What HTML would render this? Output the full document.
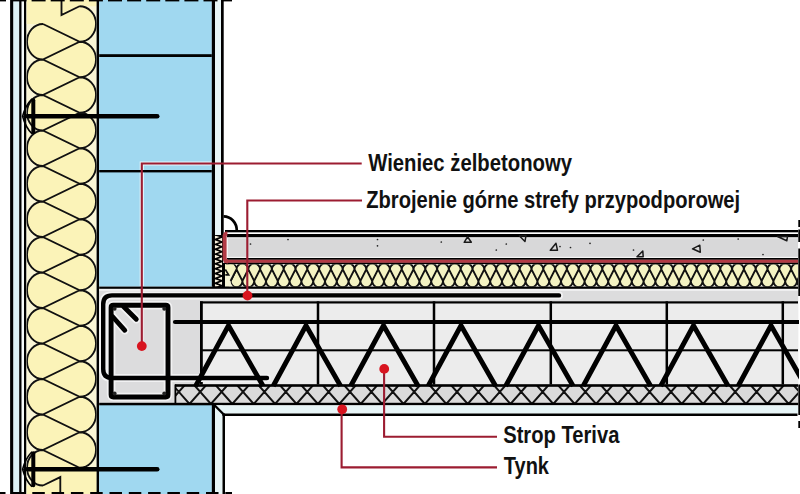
<!DOCTYPE html>
<html><head><meta charset="utf-8"><title>Wieniec</title>
<style>
html,body{margin:0;padding:0;background:#fff;}
body{width:800px;height:494px;overflow:hidden;}
svg{display:block;}
text{font-family:"Liberation Sans",sans-serif;font-weight:bold;fill:#111;}
</style></head><body>
<svg width="800" height="494" viewBox="0 0 800 494">
<defs>
<clipPath id="cvi"><rect x="26.5" y="0" width="70.1" height="494"/></clipPath>
<clipPath id="chi"><rect x="225" y="264.3" width="573" height="22.5"/></clipPath>
<clipPath id="cht"><rect x="176" y="386" width="622" height="17.5"/></clipPath>
<clipPath id="ces"><rect x="214.8" y="235.5" width="7.5" height="51"/></clipPath>
<clipPath id="ctr"><rect x="0" y="300" width="799" height="100"/></clipPath>
</defs>
<rect width="800" height="494" fill="#fff"/>

<rect x="13.2" y="0" width="6" height="494" fill="#ddf1f5"/>
<rect x="21.5" y="0" width="2.5" height="494" fill="#f6fbfb"/>
<rect x="10.1" y="0" width="3.1" height="494" fill="#000"/>
<rect x="19.2" y="0" width="2.3" height="494" fill="#000"/>
<rect x="24" y="0" width="2.5" height="494" fill="#000"/>
<rect x="26.5" y="0" width="70.1" height="494" fill="#faf6d6"/>
<path d="M43,24 A16,17.75 0 0 0 43,59.5 L79.5,41.75 Z M43,59.5 A16,17.75 0 0 0 43,95 L79.5,77.25 Z M43,95 A16,17.75 0 0 0 43,130.5 L79.5,112.75 Z M43,130.5 A16,17.75 0 0 0 43,166 L79.5,148.25 Z M43,166 A16,17.75 0 0 0 43,201.5 L79.5,183.75 Z M43,201.5 A16,17.75 0 0 0 43,237 L79.5,219.25 Z M43,237 A16,17.75 0 0 0 43,272.5 L79.5,254.75 Z M43,272.5 A16,17.75 0 0 0 43,308 L79.5,290.25 Z M43,308 A16,17.75 0 0 0 43,343.5 L79.5,325.75 Z M43,343.5 A16,17.75 0 0 0 43,379 L79.5,361.25 Z M43,379 A16,17.75 0 0 0 43,414.5 L79.5,396.75 Z M43,414.5 A16,17.75 0 0 0 43,450 L79.5,432.25 Z M43,450 A16,17.75 0 0 0 43,485.5 L79.5,467.75 Z M79.5,6.25 A16.5,17.75 0 0 1 79.5,41.75 L43,24 Z M79.5,41.75 A16.5,17.75 0 0 1 79.5,77.25 L43,59.5 Z M79.5,77.25 A16.5,17.75 0 0 1 79.5,112.75 L43,95 Z M79.5,112.75 A16.5,17.75 0 0 1 79.5,148.25 L43,130.5 Z M79.5,148.25 A16.5,17.75 0 0 1 79.5,183.75 L43,166 Z M79.5,183.75 A16.5,17.75 0 0 1 79.5,219.25 L43,201.5 Z M79.5,219.25 A16.5,17.75 0 0 1 79.5,254.75 L43,237 Z M79.5,254.75 A16.5,17.75 0 0 1 79.5,290.25 L43,272.5 Z M79.5,290.25 A16.5,17.75 0 0 1 79.5,325.75 L43,308 Z M79.5,325.75 A16.5,17.75 0 0 1 79.5,361.25 L43,343.5 Z M79.5,361.25 A16.5,17.75 0 0 1 79.5,396.75 L43,379 Z M79.5,396.75 A16.5,17.75 0 0 1 79.5,432.25 L43,414.5 Z M79.5,432.25 A16.5,17.75 0 0 1 79.5,467.75 L43,450 Z M26.5,0 H97 V6.25 H79.5 L43,24 H26.5 Z M97,494 H26.5 V485.5 H43 L79.5,467.75 H97 Z" fill="#fbf3b8" clip-path="url(#cvi)"/>
<path d="M61.5,0 V15 L79.5,6.25 M79.5,6.25 A16.5,17.75 0 0 1 79.5,41.75 M79.5,41.75 A16.5,17.75 0 0 1 79.5,77.25 M79.5,77.25 A16.5,17.75 0 0 1 79.5,112.75 M79.5,112.75 A16.5,17.75 0 0 1 79.5,148.25 M79.5,148.25 A16.5,17.75 0 0 1 79.5,183.75 M79.5,183.75 A16.5,17.75 0 0 1 79.5,219.25 M79.5,219.25 A16.5,17.75 0 0 1 79.5,254.75 M79.5,254.75 A16.5,17.75 0 0 1 79.5,290.25 M79.5,290.25 A16.5,17.75 0 0 1 79.5,325.75 M79.5,325.75 A16.5,17.75 0 0 1 79.5,361.25 M79.5,361.25 A16.5,17.75 0 0 1 79.5,396.75 M79.5,396.75 A16.5,17.75 0 0 1 79.5,432.25 M79.5,432.25 A16.5,17.75 0 0 1 79.5,467.75 M43,24 A16,17.75 0 0 0 43,59.5 M43,59.5 A16,17.75 0 0 0 43,95 M43,95 A16,17.75 0 0 0 43,130.5 M43,130.5 A16,17.75 0 0 0 43,166 M43,166 A16,17.75 0 0 0 43,201.5 M43,201.5 A16,17.75 0 0 0 43,237 M43,237 A16,17.75 0 0 0 43,272.5 M43,272.5 A16,17.75 0 0 0 43,308 M43,308 A16,17.75 0 0 0 43,343.5 M43,343.5 A16,17.75 0 0 0 43,379 M43,379 A16,17.75 0 0 0 43,414.5 M43,414.5 A16,17.75 0 0 0 43,450 M43,450 A16,17.75 0 0 0 43,485.5 M43,24 L79.5,41.75 L43,59.5 L79.5,77.25 L43,95 L79.5,112.75 L43,130.5 L79.5,148.25 L43,166 L79.5,183.75 L43,201.5 L79.5,219.25 L43,237 L79.5,254.75 L43,272.5 L79.5,290.25 L43,308 L79.5,325.75 L43,343.5 L79.5,361.25 L43,379 L79.5,396.75 L43,414.5 L79.5,432.25 L43,450 L79.5,467.75 M43,485.5 L60.3,477.09 V494" fill="none" stroke="#111" stroke-width="1.85" clip-path="url(#cvi)"/>
<rect x="96.6" y="0" width="2.6" height="494" fill="#000"/>
<rect x="99.2" y="0" width="112.6" height="286.6" fill="#a0d8f0"/>
<rect x="99.2" y="405" width="112.6" height="89" fill="#a0d8f0"/>
<path d="M141.8,286 V163.5 H212" fill="none" stroke="#e8f6fb" stroke-width="4.2"/>
<rect x="99.2" y="54.2" width="112.6" height="2.8" fill="#000"/>
<rect x="99.2" y="170" width="112.6" height="2.4" fill="#000"/>
<rect x="211.8" y="0" width="3.3" height="286.6" fill="#000"/>
<rect x="211.8" y="405" width="3.3" height="89" fill="#000"/>
<rect x="215.1" y="0" width="6" height="236" fill="#e7f5f7"/>
<rect x="221" y="0" width="2.7" height="235" fill="#000"/>
<rect x="225" y="230" width="573" height="2.3" fill="#000"/>
<rect x="226.6" y="236.7" width="571.4" height="21.5" fill="#f4f4f4"/>
<rect x="227" y="234" width="571" height="3.2" fill="#000"/>
<rect x="228" y="238.3" width="570" height="18.5" fill="#d8d8d9"/>
<rect x="227" y="258" width="571" height="1.8" fill="#000"/>
<rect x="224" y="259.8" width="574" height="3.1" fill="#b23a44"/>
<rect x="225" y="262.8" width="573" height="1.6" fill="#000"/>
<rect x="225" y="264.3" width="573" height="22.5" fill="#fbfaee"/>
<path d="M212.9,269.4 A5.9,5.9 0 0 1 224.7,269.4 L218.8,281 Z M207,281 A5.9,6.2 0 0 0 218.8,281 L212.9,269.4 Z M224.7,269.4 A5.9,5.9 0 0 1 236.5,269.4 L230.6,281 Z M218.8,281 A5.9,6.2 0 0 0 230.6,281 L224.7,269.4 Z M236.5,269.4 A5.9,5.9 0 0 1 248.3,269.4 L242.4,281 Z M230.6,281 A5.9,6.2 0 0 0 242.4,281 L236.5,269.4 Z M248.3,269.4 A5.9,5.9 0 0 1 260.1,269.4 L254.2,281 Z M242.4,281 A5.9,6.2 0 0 0 254.2,281 L248.3,269.4 Z M260.1,269.4 A5.9,5.9 0 0 1 271.9,269.4 L266,281 Z M254.2,281 A5.9,6.2 0 0 0 266,281 L260.1,269.4 Z M271.9,269.4 A5.9,5.9 0 0 1 283.7,269.4 L277.8,281 Z M266,281 A5.9,6.2 0 0 0 277.8,281 L271.9,269.4 Z M283.7,269.4 A5.9,5.9 0 0 1 295.5,269.4 L289.6,281 Z M277.8,281 A5.9,6.2 0 0 0 289.6,281 L283.7,269.4 Z M295.5,269.4 A5.9,5.9 0 0 1 307.3,269.4 L301.4,281 Z M289.6,281 A5.9,6.2 0 0 0 301.4,281 L295.5,269.4 Z M307.3,269.4 A5.9,5.9 0 0 1 319.1,269.4 L313.2,281 Z M301.4,281 A5.9,6.2 0 0 0 313.2,281 L307.3,269.4 Z M319.1,269.4 A5.9,5.9 0 0 1 330.9,269.4 L325,281 Z M313.2,281 A5.9,6.2 0 0 0 325,281 L319.1,269.4 Z M330.9,269.4 A5.9,5.9 0 0 1 342.7,269.4 L336.8,281 Z M325,281 A5.9,6.2 0 0 0 336.8,281 L330.9,269.4 Z M342.7,269.4 A5.9,5.9 0 0 1 354.5,269.4 L348.6,281 Z M336.8,281 A5.9,6.2 0 0 0 348.6,281 L342.7,269.4 Z M354.5,269.4 A5.9,5.9 0 0 1 366.3,269.4 L360.4,281 Z M348.6,281 A5.9,6.2 0 0 0 360.4,281 L354.5,269.4 Z M366.3,269.4 A5.9,5.9 0 0 1 378.1,269.4 L372.2,281 Z M360.4,281 A5.9,6.2 0 0 0 372.2,281 L366.3,269.4 Z M378.1,269.4 A5.9,5.9 0 0 1 389.9,269.4 L384,281 Z M372.2,281 A5.9,6.2 0 0 0 384,281 L378.1,269.4 Z M389.9,269.4 A5.9,5.9 0 0 1 401.7,269.4 L395.8,281 Z M384,281 A5.9,6.2 0 0 0 395.8,281 L389.9,269.4 Z M401.7,269.4 A5.9,5.9 0 0 1 413.5,269.4 L407.6,281 Z M395.8,281 A5.9,6.2 0 0 0 407.6,281 L401.7,269.4 Z M413.5,269.4 A5.9,5.9 0 0 1 425.3,269.4 L419.4,281 Z M407.6,281 A5.9,6.2 0 0 0 419.4,281 L413.5,269.4 Z M425.3,269.4 A5.9,5.9 0 0 1 437.1,269.4 L431.2,281 Z M419.4,281 A5.9,6.2 0 0 0 431.2,281 L425.3,269.4 Z M437.1,269.4 A5.9,5.9 0 0 1 448.9,269.4 L443,281 Z M431.2,281 A5.9,6.2 0 0 0 443,281 L437.1,269.4 Z M448.9,269.4 A5.9,5.9 0 0 1 460.7,269.4 L454.8,281 Z M443,281 A5.9,6.2 0 0 0 454.8,281 L448.9,269.4 Z M460.7,269.4 A5.9,5.9 0 0 1 472.5,269.4 L466.6,281 Z M454.8,281 A5.9,6.2 0 0 0 466.6,281 L460.7,269.4 Z M472.5,269.4 A5.9,5.9 0 0 1 484.3,269.4 L478.4,281 Z M466.6,281 A5.9,6.2 0 0 0 478.4,281 L472.5,269.4 Z M484.3,269.4 A5.9,5.9 0 0 1 496.1,269.4 L490.2,281 Z M478.4,281 A5.9,6.2 0 0 0 490.2,281 L484.3,269.4 Z M496.1,269.4 A5.9,5.9 0 0 1 507.9,269.4 L502,281 Z M490.2,281 A5.9,6.2 0 0 0 502,281 L496.1,269.4 Z M507.9,269.4 A5.9,5.9 0 0 1 519.7,269.4 L513.8,281 Z M502,281 A5.9,6.2 0 0 0 513.8,281 L507.9,269.4 Z M519.7,269.4 A5.9,5.9 0 0 1 531.5,269.4 L525.6,281 Z M513.8,281 A5.9,6.2 0 0 0 525.6,281 L519.7,269.4 Z M531.5,269.4 A5.9,5.9 0 0 1 543.3,269.4 L537.4,281 Z M525.6,281 A5.9,6.2 0 0 0 537.4,281 L531.5,269.4 Z M543.3,269.4 A5.9,5.9 0 0 1 555.1,269.4 L549.2,281 Z M537.4,281 A5.9,6.2 0 0 0 549.2,281 L543.3,269.4 Z M555.1,269.4 A5.9,5.9 0 0 1 566.9,269.4 L561,281 Z M549.2,281 A5.9,6.2 0 0 0 561,281 L555.1,269.4 Z M566.9,269.4 A5.9,5.9 0 0 1 578.7,269.4 L572.8,281 Z M561,281 A5.9,6.2 0 0 0 572.8,281 L566.9,269.4 Z M578.7,269.4 A5.9,5.9 0 0 1 590.5,269.4 L584.6,281 Z M572.8,281 A5.9,6.2 0 0 0 584.6,281 L578.7,269.4 Z M590.5,269.4 A5.9,5.9 0 0 1 602.3,269.4 L596.4,281 Z M584.6,281 A5.9,6.2 0 0 0 596.4,281 L590.5,269.4 Z M602.3,269.4 A5.9,5.9 0 0 1 614.1,269.4 L608.2,281 Z M596.4,281 A5.9,6.2 0 0 0 608.2,281 L602.3,269.4 Z M614.1,269.4 A5.9,5.9 0 0 1 625.9,269.4 L620,281 Z M608.2,281 A5.9,6.2 0 0 0 620,281 L614.1,269.4 Z M625.9,269.4 A5.9,5.9 0 0 1 637.7,269.4 L631.8,281 Z M620,281 A5.9,6.2 0 0 0 631.8,281 L625.9,269.4 Z M637.7,269.4 A5.9,5.9 0 0 1 649.5,269.4 L643.6,281 Z M631.8,281 A5.9,6.2 0 0 0 643.6,281 L637.7,269.4 Z M649.5,269.4 A5.9,5.9 0 0 1 661.3,269.4 L655.4,281 Z M643.6,281 A5.9,6.2 0 0 0 655.4,281 L649.5,269.4 Z M661.3,269.4 A5.9,5.9 0 0 1 673.1,269.4 L667.2,281 Z M655.4,281 A5.9,6.2 0 0 0 667.2,281 L661.3,269.4 Z M673.1,269.4 A5.9,5.9 0 0 1 684.9,269.4 L679,281 Z M667.2,281 A5.9,6.2 0 0 0 679,281 L673.1,269.4 Z M684.9,269.4 A5.9,5.9 0 0 1 696.7,269.4 L690.8,281 Z M679,281 A5.9,6.2 0 0 0 690.8,281 L684.9,269.4 Z M696.7,269.4 A5.9,5.9 0 0 1 708.5,269.4 L702.6,281 Z M690.8,281 A5.9,6.2 0 0 0 702.6,281 L696.7,269.4 Z M708.5,269.4 A5.9,5.9 0 0 1 720.3,269.4 L714.4,281 Z M702.6,281 A5.9,6.2 0 0 0 714.4,281 L708.5,269.4 Z M720.3,269.4 A5.9,5.9 0 0 1 732.1,269.4 L726.2,281 Z M714.4,281 A5.9,6.2 0 0 0 726.2,281 L720.3,269.4 Z M732.1,269.4 A5.9,5.9 0 0 1 743.9,269.4 L738,281 Z M726.2,281 A5.9,6.2 0 0 0 738,281 L732.1,269.4 Z M743.9,269.4 A5.9,5.9 0 0 1 755.7,269.4 L749.8,281 Z M738,281 A5.9,6.2 0 0 0 749.8,281 L743.9,269.4 Z M755.7,269.4 A5.9,5.9 0 0 1 767.5,269.4 L761.6,281 Z M749.8,281 A5.9,6.2 0 0 0 761.6,281 L755.7,269.4 Z M767.5,269.4 A5.9,5.9 0 0 1 779.3,269.4 L773.4,281 Z M761.6,281 A5.9,6.2 0 0 0 773.4,281 L767.5,269.4 Z M779.3,269.4 A5.9,5.9 0 0 1 791.1,269.4 L785.2,281 Z M773.4,281 A5.9,6.2 0 0 0 785.2,281 L779.3,269.4 Z M791.1,269.4 A5.9,5.9 0 0 1 802.9,269.4 L797,281 Z M785.2,281 A5.9,6.2 0 0 0 797,281 L791.1,269.4 Z M802.9,269.4 A5.9,5.9 0 0 1 814.7,269.4 L808.8,281 Z M797,281 A5.9,6.2 0 0 0 808.8,281 L802.9,269.4 Z" fill="#f4f3c2" clip-path="url(#chi)"/>
<path d="M212.9,269.4 A5.9,5.9 0 0 1 224.7,269.4 M218.8,281 A5.9,6.2 0 0 0 230.6,281 M224.7,269.4 A5.9,5.9 0 0 1 236.5,269.4 M230.6,281 A5.9,6.2 0 0 0 242.4,281 M236.5,269.4 A5.9,5.9 0 0 1 248.3,269.4 M242.4,281 A5.9,6.2 0 0 0 254.2,281 M248.3,269.4 A5.9,5.9 0 0 1 260.1,269.4 M254.2,281 A5.9,6.2 0 0 0 266,281 M260.1,269.4 A5.9,5.9 0 0 1 271.9,269.4 M266,281 A5.9,6.2 0 0 0 277.8,281 M271.9,269.4 A5.9,5.9 0 0 1 283.7,269.4 M277.8,281 A5.9,6.2 0 0 0 289.6,281 M283.7,269.4 A5.9,5.9 0 0 1 295.5,269.4 M289.6,281 A5.9,6.2 0 0 0 301.4,281 M295.5,269.4 A5.9,5.9 0 0 1 307.3,269.4 M301.4,281 A5.9,6.2 0 0 0 313.2,281 M307.3,269.4 A5.9,5.9 0 0 1 319.1,269.4 M313.2,281 A5.9,6.2 0 0 0 325,281 M319.1,269.4 A5.9,5.9 0 0 1 330.9,269.4 M325,281 A5.9,6.2 0 0 0 336.8,281 M330.9,269.4 A5.9,5.9 0 0 1 342.7,269.4 M336.8,281 A5.9,6.2 0 0 0 348.6,281 M342.7,269.4 A5.9,5.9 0 0 1 354.5,269.4 M348.6,281 A5.9,6.2 0 0 0 360.4,281 M354.5,269.4 A5.9,5.9 0 0 1 366.3,269.4 M360.4,281 A5.9,6.2 0 0 0 372.2,281 M366.3,269.4 A5.9,5.9 0 0 1 378.1,269.4 M372.2,281 A5.9,6.2 0 0 0 384,281 M378.1,269.4 A5.9,5.9 0 0 1 389.9,269.4 M384,281 A5.9,6.2 0 0 0 395.8,281 M389.9,269.4 A5.9,5.9 0 0 1 401.7,269.4 M395.8,281 A5.9,6.2 0 0 0 407.6,281 M401.7,269.4 A5.9,5.9 0 0 1 413.5,269.4 M407.6,281 A5.9,6.2 0 0 0 419.4,281 M413.5,269.4 A5.9,5.9 0 0 1 425.3,269.4 M419.4,281 A5.9,6.2 0 0 0 431.2,281 M425.3,269.4 A5.9,5.9 0 0 1 437.1,269.4 M431.2,281 A5.9,6.2 0 0 0 443,281 M437.1,269.4 A5.9,5.9 0 0 1 448.9,269.4 M443,281 A5.9,6.2 0 0 0 454.8,281 M448.9,269.4 A5.9,5.9 0 0 1 460.7,269.4 M454.8,281 A5.9,6.2 0 0 0 466.6,281 M460.7,269.4 A5.9,5.9 0 0 1 472.5,269.4 M466.6,281 A5.9,6.2 0 0 0 478.4,281 M472.5,269.4 A5.9,5.9 0 0 1 484.3,269.4 M478.4,281 A5.9,6.2 0 0 0 490.2,281 M484.3,269.4 A5.9,5.9 0 0 1 496.1,269.4 M490.2,281 A5.9,6.2 0 0 0 502,281 M496.1,269.4 A5.9,5.9 0 0 1 507.9,269.4 M502,281 A5.9,6.2 0 0 0 513.8,281 M507.9,269.4 A5.9,5.9 0 0 1 519.7,269.4 M513.8,281 A5.9,6.2 0 0 0 525.6,281 M519.7,269.4 A5.9,5.9 0 0 1 531.5,269.4 M525.6,281 A5.9,6.2 0 0 0 537.4,281 M531.5,269.4 A5.9,5.9 0 0 1 543.3,269.4 M537.4,281 A5.9,6.2 0 0 0 549.2,281 M543.3,269.4 A5.9,5.9 0 0 1 555.1,269.4 M549.2,281 A5.9,6.2 0 0 0 561,281 M555.1,269.4 A5.9,5.9 0 0 1 566.9,269.4 M561,281 A5.9,6.2 0 0 0 572.8,281 M566.9,269.4 A5.9,5.9 0 0 1 578.7,269.4 M572.8,281 A5.9,6.2 0 0 0 584.6,281 M578.7,269.4 A5.9,5.9 0 0 1 590.5,269.4 M584.6,281 A5.9,6.2 0 0 0 596.4,281 M590.5,269.4 A5.9,5.9 0 0 1 602.3,269.4 M596.4,281 A5.9,6.2 0 0 0 608.2,281 M602.3,269.4 A5.9,5.9 0 0 1 614.1,269.4 M608.2,281 A5.9,6.2 0 0 0 620,281 M614.1,269.4 A5.9,5.9 0 0 1 625.9,269.4 M620,281 A5.9,6.2 0 0 0 631.8,281 M625.9,269.4 A5.9,5.9 0 0 1 637.7,269.4 M631.8,281 A5.9,6.2 0 0 0 643.6,281 M637.7,269.4 A5.9,5.9 0 0 1 649.5,269.4 M643.6,281 A5.9,6.2 0 0 0 655.4,281 M649.5,269.4 A5.9,5.9 0 0 1 661.3,269.4 M655.4,281 A5.9,6.2 0 0 0 667.2,281 M661.3,269.4 A5.9,5.9 0 0 1 673.1,269.4 M667.2,281 A5.9,6.2 0 0 0 679,281 M673.1,269.4 A5.9,5.9 0 0 1 684.9,269.4 M679,281 A5.9,6.2 0 0 0 690.8,281 M684.9,269.4 A5.9,5.9 0 0 1 696.7,269.4 M690.8,281 A5.9,6.2 0 0 0 702.6,281 M696.7,269.4 A5.9,5.9 0 0 1 708.5,269.4 M702.6,281 A5.9,6.2 0 0 0 714.4,281 M708.5,269.4 A5.9,5.9 0 0 1 720.3,269.4 M714.4,281 A5.9,6.2 0 0 0 726.2,281 M720.3,269.4 A5.9,5.9 0 0 1 732.1,269.4 M726.2,281 A5.9,6.2 0 0 0 738,281 M732.1,269.4 A5.9,5.9 0 0 1 743.9,269.4 M738,281 A5.9,6.2 0 0 0 749.8,281 M743.9,269.4 A5.9,5.9 0 0 1 755.7,269.4 M749.8,281 A5.9,6.2 0 0 0 761.6,281 M755.7,269.4 A5.9,5.9 0 0 1 767.5,269.4 M761.6,281 A5.9,6.2 0 0 0 773.4,281 M767.5,269.4 A5.9,5.9 0 0 1 779.3,269.4 M773.4,281 A5.9,6.2 0 0 0 785.2,281 M779.3,269.4 A5.9,5.9 0 0 1 791.1,269.4 M785.2,281 A5.9,6.2 0 0 0 797,281 M791.1,269.4 A5.9,5.9 0 0 1 802.9,269.4 M797,281 A5.9,6.2 0 0 0 808.8,281 M802.9,269.4 A5.9,5.9 0 0 1 814.7,269.4 M808.8,281 A5.9,6.2 0 0 0 820.6,281 M212.9,269.4 L218.8,281 L224.7,269.4 L230.6,281 L236.5,269.4 L242.4,281 L248.3,269.4 L254.2,281 L260.1,269.4 L266,281 L271.9,269.4 L277.8,281 L283.7,269.4 L289.6,281 L295.5,269.4 L301.4,281 L307.3,269.4 L313.2,281 L319.1,269.4 L325,281 L330.9,269.4 L336.8,281 L342.7,269.4 L348.6,281 L354.5,269.4 L360.4,281 L366.3,269.4 L372.2,281 L378.1,269.4 L384,281 L389.9,269.4 L395.8,281 L401.7,269.4 L407.6,281 L413.5,269.4 L419.4,281 L425.3,269.4 L431.2,281 L437.1,269.4 L443,281 L448.9,269.4 L454.8,281 L460.7,269.4 L466.6,281 L472.5,269.4 L478.4,281 L484.3,269.4 L490.2,281 L496.1,269.4 L502,281 L507.9,269.4 L513.8,281 L519.7,269.4 L525.6,281 L531.5,269.4 L537.4,281 L543.3,269.4 L549.2,281 L555.1,269.4 L561,281 L566.9,269.4 L572.8,281 L578.7,269.4 L584.6,281 L590.5,269.4 L596.4,281 L602.3,269.4 L608.2,281 L614.1,269.4 L620,281 L625.9,269.4 L631.8,281 L637.7,269.4 L643.6,281 L649.5,269.4 L655.4,281 L661.3,269.4 L667.2,281 L673.1,269.4 L679,281 L684.9,269.4 L690.8,281 L696.7,269.4 L702.6,281 L708.5,269.4 L714.4,281 L720.3,269.4 L726.2,281 L732.1,269.4 L738,281 L743.9,269.4 L749.8,281 L755.7,269.4 L761.6,281 L767.5,269.4 L773.4,281 L779.3,269.4 L785.2,281 L791.1,269.4 L797,281 L802.9,269.4 L808.8,281" fill="none" stroke="#111" stroke-width="1.9" clip-path="url(#chi)"/>
<path d="M225,264.4 L233.5,264.4 Q235.2,266.2 236.2,269.4 L233.6,275 L225,275 Z" fill="#f4f3c2"/>
<path d="M225,275 L233.6,275 L230.6,281 L231,283.6 L232.2,285.6 L233.6,286.8 L225,286.8 Z" fill="#f5f4d6"/>
<path d="M236.6,269.2 L230.6,281" fill="none" stroke="#111" stroke-width="1.9"/>
<path d="M225.3,269.5 L228.6,274.8 L225.3,274.8" fill="none" stroke="#111" stroke-width="1.7"/>
<rect x="212.4" y="235" width="10.8" height="52" fill="#000"/>
<path d="M214.8,235.4 L219.6,237.1 L214.8,238.8 Z M222.3,237.83 L217.8,239.53 L222.3,241.23 Z M214.8,240.26 L219.6,241.96 L214.8,243.66 Z M222.3,242.69 L217.8,244.39 L222.3,246.09 Z M214.8,245.12 L219.6,246.82 L214.8,248.52 Z M222.3,247.55 L217.8,249.25 L222.3,250.95 Z M214.8,249.98 L219.6,251.68 L214.8,253.38 Z M222.3,252.41 L217.8,254.11 L222.3,255.81 Z M214.8,254.84 L219.6,256.54 L214.8,258.24 Z M222.3,257.27 L217.8,258.97 L222.3,260.67 Z M214.8,259.7 L219.6,261.4 L214.8,263.1 Z M222.3,262.13 L217.8,263.83 L222.3,265.53 Z M214.8,264.56 L219.6,266.26 L214.8,267.96 Z M222.3,266.99 L217.8,268.69 L222.3,270.39 Z M214.8,269.42 L219.6,271.12 L214.8,272.82 Z M222.3,271.85 L217.8,273.55 L222.3,275.25 Z M214.8,274.28 L219.6,275.98 L214.8,277.68 Z M222.3,276.71 L217.8,278.41 L222.3,280.11 Z M214.8,279.14 L219.6,280.84 L214.8,282.54 Z M222.3,281.57 L217.8,283.27 L222.3,284.97 Z M214.8,284 L219.6,285.7 L214.8,287.4 Z M222.3,286.43 L217.8,288.13 L222.3,289.83 Z M214.8,288.86 L219.6,290.56 L214.8,292.26 Z M222.3,291.29 L217.8,292.99 L222.3,294.69 Z" fill="#f7f1dc" clip-path="url(#ces)"/>
<rect x="222.2" y="263" width="2.8" height="24" fill="#000"/>
<circle cx="250.5" cy="244" r="0.85" fill="#222"/>
<circle cx="288" cy="239.5" r="0.85" fill="#222"/>
<circle cx="377.5" cy="239.5" r="0.85" fill="#222"/>
<circle cx="377.5" cy="245.8" r="0.85" fill="#222"/>
<circle cx="441.3" cy="242" r="0.85" fill="#222"/>
<circle cx="496.3" cy="250" r="0.85" fill="#222"/>
<circle cx="506.3" cy="244" r="0.85" fill="#222"/>
<circle cx="560" cy="246.5" r="0.85" fill="#222"/>
<circle cx="570.5" cy="247.5" r="0.85" fill="#222"/>
<circle cx="590" cy="243.3" r="0.85" fill="#222"/>
<circle cx="633.5" cy="250" r="0.85" fill="#222"/>
<circle cx="703.3" cy="240" r="0.85" fill="#222"/>
<circle cx="738.2" cy="239" r="0.85" fill="#222"/>
<circle cx="763" cy="254.5" r="0.85" fill="#222"/>
<path d="M467.5,236.8 L464.2,242.3 L471.3,242.3 Z" fill="none" stroke="#1a1a1a" stroke-width="1.5" stroke-linejoin="round"/>
<path d="M519.5,236 L526,235.5 L525,241.5 Z" fill="none" stroke="#1a1a1a" stroke-width="1.5" stroke-linejoin="round"/>
<path d="M556,243.3 L550.3,250.3 L557.5,250.3 Z" fill="none" stroke="#1a1a1a" stroke-width="1.5" stroke-linejoin="round"/>
<path d="M642.8,251 L637,256.8 L643.2,256.8 Z" fill="none" stroke="#1a1a1a" stroke-width="1.5" stroke-linejoin="round"/>
<path d="M699.8,245.2 L692.5,248.8 L700.3,252.3 Z" fill="none" stroke="#1a1a1a" stroke-width="1.5" stroke-linejoin="round"/>
<path d="M777.5,236.5 L787.5,236.5 L786.8,240.8 Z" fill="none" stroke="#1a1a1a" stroke-width="1.5" stroke-linejoin="round"/>
<path d="M224.6,237 Q224.6,233.6 227.4,233.6 M224.6,235 V258 Q224.6,261.4 228,261.4" fill="none" stroke="#b23a44" stroke-width="4"/>
<rect x="99.2" y="286.6" width="699" height="2.4" fill="#000"/>
<rect x="99.2" y="289" width="699" height="115" fill="#dcdcdd"/>
<rect x="99.2" y="288.8" width="699" height="2" fill="#f3f3f3"/>
<rect x="200" y="301" width="598" height="85" fill="#ececec"/>
<rect x="200" y="301.3" width="598" height="2.2" fill="#000"/>
<rect x="200" y="301.3" width="2.8" height="85" fill="#000"/>
<rect x="316.75" y="301.3" width="2.5" height="85" fill="#000"/>
<rect x="432.75" y="301.3" width="2.5" height="85" fill="#000"/>
<rect x="549.55" y="301.3" width="2.5" height="85" fill="#000"/>
<rect x="665.55" y="301.3" width="2.5" height="85" fill="#000"/>
<rect x="781.55" y="301.3" width="2.5" height="85" fill="#000"/>
<rect x="200" y="349.3" width="598" height="2" fill="#000"/>
<rect x="175" y="384.5" width="623" height="20" fill="#dadada"/>
<path d="M130.44,385.5 L146.7,404 M146.7,404 L162.96,385.5 M151.84,385.5 L168.1,404 M168.1,404 L184.36,385.5 M173.24,385.5 L189.5,404 M189.5,404 L205.76,385.5 M194.64,385.5 L210.9,404 M210.9,404 L227.16,385.5 M216.04,385.5 L232.3,404 M232.3,404 L248.56,385.5 M237.44,385.5 L253.7,404 M253.7,404 L269.96,385.5 M258.84,385.5 L275.1,404 M275.1,404 L291.36,385.5 M280.24,385.5 L296.5,404 M296.5,404 L312.76,385.5 M301.64,385.5 L317.9,404 M317.9,404 L334.16,385.5 M323.04,385.5 L339.3,404 M339.3,404 L355.56,385.5 M344.44,385.5 L360.7,404 M360.7,404 L376.96,385.5 M365.84,385.5 L382.1,404 M382.1,404 L398.36,385.5 M387.24,385.5 L403.5,404 M403.5,404 L419.76,385.5 M408.64,385.5 L424.9,404 M424.9,404 L441.16,385.5 M430.04,385.5 L446.3,404 M446.3,404 L462.56,385.5 M451.44,385.5 L467.7,404 M467.7,404 L483.96,385.5 M472.84,385.5 L489.1,404 M489.1,404 L505.36,385.5 M494.24,385.5 L510.5,404 M510.5,404 L526.76,385.5 M515.64,385.5 L531.9,404 M531.9,404 L548.16,385.5 M537.04,385.5 L553.3,404 M553.3,404 L569.56,385.5 M558.44,385.5 L574.7,404 M574.7,404 L590.96,385.5 M579.84,385.5 L596.1,404 M596.1,404 L612.36,385.5 M601.24,385.5 L617.5,404 M617.5,404 L633.76,385.5 M622.64,385.5 L638.9,404 M638.9,404 L655.16,385.5 M644.04,385.5 L660.3,404 M660.3,404 L676.56,385.5 M665.44,385.5 L681.7,404 M681.7,404 L697.96,385.5 M686.84,385.5 L703.1,404 M703.1,404 L719.36,385.5 M708.24,385.5 L724.5,404 M724.5,404 L740.76,385.5 M729.64,385.5 L745.9,404 M745.9,404 L762.16,385.5 M751.04,385.5 L767.3,404 M767.3,404 L783.56,385.5 M772.44,385.5 L788.7,404 M788.7,404 L804.96,385.5 M793.84,385.5 L810.1,404 M810.1,404 L826.36,385.5" fill="none" stroke="#111" stroke-width="1.95" clip-path="url(#cht)"/>
<rect x="175" y="384.2" width="623" height="2.6" fill="#000"/>
<rect x="174.5" y="384.5" width="1.8" height="20" fill="#000"/>
<rect x="99.2" y="402.8" width="699" height="2.5" fill="#000"/>
<path d="M141.8,289 V346" fill="none" stroke="#f0e6e8" stroke-width="4.2"/>
<path d="M559,295.4 H112 Q103.2,295.4 103.2,304.3 V369 Q103.2,378 112,378 H267" fill="none" stroke="#f2f2f3" stroke-width="8" stroke-linecap="round" stroke-linejoin="round"/>
<path d="M111.1,307.5 Q111.1,305.3 113.3,305.3 H165.8 Q168,305.3 168,307.5 V394.8 Q168,397 165.8,397 H113.3 Q111.1,397 111.1,394.8 Z" fill="none" stroke="#f2f2f3" stroke-width="8.5" stroke-linecap="round" stroke-linejoin="round"/>
<path d="M123.5,306.5 L136.3,319.3" fill="none" stroke="#f2f2f3" stroke-width="8.4" stroke-linecap="round" stroke-linejoin="round"/>
<path d="M112.5,316.5 L124.8,330.3" fill="none" stroke="#f2f2f3" stroke-width="8.4" stroke-linecap="round" stroke-linejoin="round"/>
<path d="M559,295.4 H112 Q103.2,295.4 103.2,304.3 V369 Q103.2,378 112,378 H267" fill="none" stroke="#000" stroke-width="4.4" stroke-linecap="round" stroke-linejoin="round"/>
<path d="M111.1,307.5 Q111.1,305.3 113.3,305.3 H165.8 Q168,305.3 168,307.5 V394.8 Q168,397 165.8,397 H113.3 Q111.1,397 111.1,394.8 Z" fill="none" stroke="#000" stroke-width="4.9" stroke-linecap="round" stroke-linejoin="round"/>
<path d="M123.5,306.5 L136.3,319.3" fill="none" stroke="#000" stroke-width="4.8" stroke-linecap="round" stroke-linejoin="round"/>
<path d="M112.5,316.5 L124.8,330.3" fill="none" stroke="#000" stroke-width="4.8" stroke-linecap="round" stroke-linejoin="round"/>
<circle cx="114.6" cy="308.7" r="2" fill="#222"/>
<circle cx="164.3" cy="308.7" r="2" fill="#222"/>
<circle cx="114.6" cy="393.6" r="2" fill="#222"/>
<circle cx="164.3" cy="393.6" r="2" fill="#222"/>
<g clip-path="url(#ctr)">
<path d="M175,322 H800" stroke="#000" stroke-width="4.2" fill="none" stroke-linecap="round"/>
<path d="M195.7,386 L228.5,325.5 L263.1,386 M273.2,386 L306,325.5 L340.6,386 M350.7,386 L383.5,325.5 L418.1,386 M428.2,386 L461,325.5 L495.6,386 M505.7,386 L538.5,325.5 L573.1,386 M583.2,386 L616,325.5 L650.6,386 M660.7,386 L693.5,325.5 L728.1,386 M738.2,386 L771,325.5 L805.6,386 M815.7,386 L848.5,325.5 L883.1,386" stroke="#000" stroke-width="4.9" fill="none" stroke-linejoin="miter"/>
</g>
<rect x="215.1" y="405.5" width="583" height="8" fill="#e7f5f7"/>
<rect x="215.1" y="405.5" width="7.4" height="89" fill="#e7f5f7"/>
<rect x="222.5" y="413.5" width="575" height="2.5" fill="#000"/>
<rect x="222.5" y="413.5" width="2.5" height="81" fill="#000"/>
<path d="M214.3,405 L223.8,414.5" stroke="#000" stroke-width="2.4"/>
<path d="M223.6,216.3 A13.2,14.2 0 0 1 236.8,230.5" fill="none" stroke="#000" stroke-width="2.7"/>
<path d="M27.5,116.2 H157.2" stroke="#000" stroke-width="4.6" stroke-linecap="round"/>
<path d="M21.8,116.2 L28,113.9 L28,118.5 Z" fill="#000"/>
<path d="M33.3,100.2 V132.2" stroke="#000" stroke-width="4" stroke-linecap="round"/>
<path d="M32,98.7 Q25.5,105.2 22.6,116.2 Q25.5,127.2 32,133.7" stroke="#000" stroke-width="1.6" fill="none"/>
<path d="M27.5,469.3 H157.2" stroke="#000" stroke-width="4.6" stroke-linecap="round"/>
<path d="M21.8,469.3 L28,467 L28,471.6 Z" fill="#000"/>
<path d="M33.3,453.3 V485.3" stroke="#000" stroke-width="4" stroke-linecap="round"/>
<path d="M32,451.8 Q25.5,458.3 22.6,469.3 Q25.5,480.3 32,486.8" stroke="#000" stroke-width="1.6" fill="none"/>
<rect x="0" y="0" width="6" height="1.4" fill="#000"/>
<rect x="0" y="492" width="5.5" height="2" fill="#000"/>
<rect x="12.5" y="0" width="14" height="1.4" fill="#000"/>
<rect x="31.6" y="0" width="14" height="1.4" fill="#000"/>
<rect x="50.7" y="0" width="14" height="1.4" fill="#000"/>
<rect x="69.8" y="0" width="14" height="1.4" fill="#000"/>
<rect x="88.9" y="0" width="14" height="1.4" fill="#000"/>
<rect x="108" y="0" width="14" height="1.4" fill="#000"/>
<rect x="127.1" y="0" width="14" height="1.4" fill="#000"/>
<rect x="146.2" y="0" width="14" height="1.4" fill="#000"/>
<rect x="165.3" y="0" width="14" height="1.4" fill="#000"/>
<rect x="184.4" y="0" width="14" height="1.4" fill="#000"/>
<rect x="203.5" y="0" width="14" height="1.4" fill="#000"/>
<rect x="222.6" y="0" width="9.4" height="1.4" fill="#000"/>
<rect x="13" y="492" width="12.5" height="2" fill="#000"/>
<rect x="32.3" y="492" width="12.5" height="2" fill="#000"/>
<rect x="51.6" y="492" width="12.5" height="2" fill="#000"/>
<rect x="70.9" y="492" width="12.5" height="2" fill="#000"/>
<rect x="90.2" y="492" width="12.5" height="2" fill="#000"/>
<rect x="109.5" y="492" width="12.5" height="2" fill="#000"/>
<rect x="128.8" y="492" width="12.5" height="2" fill="#000"/>
<rect x="148.1" y="492" width="12.5" height="2" fill="#000"/>
<rect x="167.4" y="492" width="12.5" height="2" fill="#000"/>
<rect x="186.7" y="492" width="12.5" height="2" fill="#000"/>
<rect x="206" y="492" width="12.5" height="2" fill="#000"/>
<rect x="225.3" y="492" width="6.7" height="2" fill="#000"/>
<rect x="798.3" y="220" width="1.7" height="7" fill="#000"/>
<rect x="798.3" y="229.5" width="1.7" height="12.5" fill="#000"/>
<rect x="798.3" y="248.5" width="1.7" height="47.5" fill="#000"/>
<rect x="798.3" y="384.5" width="1.7" height="30.5" fill="#000"/>
<rect x="798.3" y="421" width="1.7" height="7" fill="#000"/>
<path d="M141.8,346 V163.5 H361.7" fill="none" stroke="#9c1c31" stroke-width="2.1"/>
<path d="M247.3,296 V200.5 H362" fill="none" stroke="#9c1c31" stroke-width="2.1"/>
<path d="M384.1,369 V436.8 H497" fill="none" stroke="#9c1c31" stroke-width="2.1"/>
<path d="M341.6,409.3 V467.4 H497" fill="none" stroke="#9c1c31" stroke-width="2.1"/>
<circle cx="141.8" cy="346.1" r="4.9" fill="#d8141f"/>
<circle cx="247.5" cy="295.6" r="4.9" fill="#d8141f"/>
<circle cx="384.2" cy="368.9" r="4.9" fill="#d8141f"/>
<circle cx="342.2" cy="409.3" r="4.9" fill="#d8141f"/>
<text x="368.2" y="171" font-size="24.5" textLength="203.8" lengthAdjust="spacingAndGlyphs">Wieniec żelbetonowy</text>
<text x="366.2" y="207.9" font-size="24.5" textLength="374" lengthAdjust="spacingAndGlyphs">Zbrojenie górne strefy przypodporowej</text>
<text x="503.2" y="443" font-size="24.5" textLength="116.2" lengthAdjust="spacingAndGlyphs">Strop Teriva</text>
<text x="503.8" y="474.2" font-size="24.5" textLength="45.2" lengthAdjust="spacingAndGlyphs">Tynk</text>
</svg>
</body></html>
